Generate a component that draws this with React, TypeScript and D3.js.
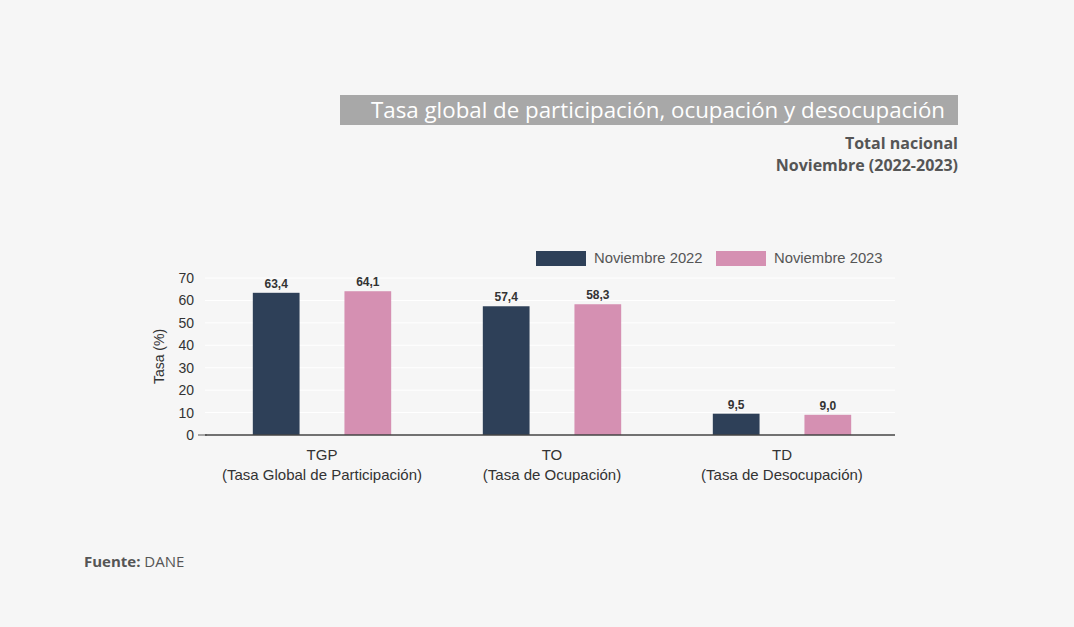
import React from "react";
import * as d3 from "d3";

const categories = ["TGP", "TO", "TD"];
const categoryNames = [
  "(Tasa Global de Participación)",
  "(Tasa de Ocupación)",
  "(Tasa de Desocupación)",
];
const seriesNames = ["Noviembre 2022", "Noviembre 2023"];
const values2022 = [63.4, 57.4, 9.5];
const values2023 = [64.1, 58.3, 9.0];
const yTicks = [0, 10, 20, 30, 40, 50, 60, 70];

const colors = ["#2e4058", "#d590b2"];
const W = 1074;
const H = 627;
const margin = { top: 278, right: 177, bottom: 192, left: 207 };

const fmt = (v: number) => v.toFixed(1).replace(".", ",");

export default function App() {
  const x = d3
    .scaleBand<string>()
    .domain(categories)
    .range([margin.left, W - margin.right]);

  const x1 = d3
    .scaleBand<string>()
    .domain(seriesNames)
    .range([0, x.bandwidth()])
    .paddingInner(0.49)
    .paddingOuter(0.5);

  const y = d3
    .scaleLinear()
    .domain([0, 70])
    .range([H - margin.bottom, margin.top]);

  const series = [values2022, values2023];
  const chartFont = "'Liberation Sans', Arial, sans-serif";
  const headFont = "'Open Sans', sans-serif";

  return (
    <svg
      width={W}
      height={H}
      style={{ position: "absolute", left: 0, top: 0, background: "#f6f6f6" }}
    >
      <rect width={W} height={H} fill="#f6f6f6" />

      {/* encabezado */}
      <rect x={340} y={95} width={618} height={30} fill="#a8a8a8" />
      <text
        x={945}
        y={118}
        textAnchor="end"
        fill="#fff"
        fontFamily={headFont}
        fontSize={22.3}
      >
        Tasa global de participación, ocupación y desocupación
      </text>
      <text
        x={958}
        y={149}
        textAnchor="end"
        fill="#555"
        fontFamily={headFont}
        fontSize={16}
        fontWeight="bold"
      >
        Total nacional
      </text>
      <text
        x={958}
        y={171}
        textAnchor="end"
        fill="#555"
        fontFamily={headFont}
        fontSize={16}
        fontWeight="bold"
      >
        Noviembre (2022-2023)
      </text>

      {/* leyenda */}
      {seriesNames.map((s, i) => (
        <g key={s} transform={`translate(${536 + i * 180},251)`}>
          <rect width={50} height={15} fill={colors[i]} />
          <text
            x={58}
            y={12}
            fill="#555"
            fontFamily={chartFont}
            fontSize={14.8}
          >
            {s}
          </text>
        </g>
      ))}

      {/* grilla */}
      {yTicks.slice(1).map((t) => (
        <line
          key={t}
          x1={margin.left - 2}
          x2={W - margin.right - 2}
          y1={y(t)}
          y2={y(t)}
          stroke="#ffffff"
          strokeWidth={1}
        />
      ))}

      {/* eje y */}
      {yTicks.map((t) => (
        <text
          key={t}
          x={194}
          y={y(t)}
          dy="0.36em"
          textAnchor="end"
          fill="#333"
          fontFamily={chartFont}
          fontSize={14}
        >
          {t}
        </text>
      ))}
      <line
        x1={198}
        x2={margin.left}
        y1={y(0)}
        y2={y(0)}
        stroke="#555"
        strokeWidth={1}
      />
      <text
        transform={`translate(164,${(y(0) + y(70)) / 2}) rotate(-90)`}
        textAnchor="middle"
        fill="#333"
        fontFamily={chartFont}
        fontSize={14}
      >
        Tasa (%)
      </text>

      {/* barras */}
      {categories.map((c, ci) => (
        <g key={c} transform={`translate(${x(c)},0)`}>
          {seriesNames.map((s, si) => {
            const v = series[si][ci];
            const bx = x1(s)!;
            return (
              <g key={s}>
                <rect
                  x={bx}
                  y={y(v)}
                  width={x1.bandwidth()}
                  height={y(0) - y(v)}
                  fill={colors[si]}
                />
                <text
                  x={bx + x1.bandwidth() / 2}
                  y={y(v) - 5}
                  textAnchor="middle"
                  fill="#333"
                  fontFamily={chartFont}
                  fontSize={12}
                  fontWeight="bold"
                >
                  {fmt(v)}
                </text>
              </g>
            );
          })}
          <text
            x={x.bandwidth() / 2}
            y={460}
            textAnchor="middle"
            fill="#333"
            fontFamily={chartFont}
            fontSize={15}
          >
            {c}
          </text>
          <text
            x={x.bandwidth() / 2}
            y={480}
            textAnchor="middle"
            fill="#333"
            fontFamily={chartFont}
            fontSize={15}
          >
            {categoryNames[ci]}
          </text>
        </g>
      ))}

      {/* eje x */}
      <line
        x1={margin.left - 2}
        x2={W - margin.right - 2}
        y1={y(0)}
        y2={y(0)}
        stroke="#444"
        strokeWidth={1.5}
      />

      {/* fuente */}
      <text x={84} y={567} fill="#555" fontFamily={headFont} fontSize={15}>
        <tspan fontWeight="bold">Fuente:</tspan> DANE
      </text>
    </svg>
  );
}
